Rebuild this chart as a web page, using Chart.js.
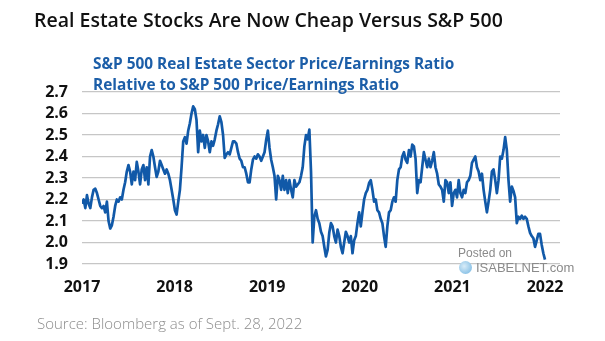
<!DOCTYPE html>
<html><head><meta charset="utf-8">
<script src="https://cdn.jsdelivr.net/npm/chart.js@4/dist/chart.umd.min.js"></script>
<style>
html,body{margin:0;padding:0;background:#fff;}
#wrap{position:relative;width:605px;height:341px;overflow:hidden;background:#fff;}
canvas{position:absolute;left:0;top:0;}
.t{position:absolute;white-space:nowrap;}
#title{left:34px;top:6px;font:600 19.5px 'Open Sans';color:#111;}
#sub{left:93px;top:53px;font:bold 15.4px 'Open Sans';color:#1c5ea8;line-height:21px;}
#src{left:37px;top:313px;font:300 15px 'Open Sans';color:#8c8c8c;}
#wm1{left:458px;top:246px;font:12px 'Liberation Sans';color:#8a8a8a;}
#wm2{left:476px;top:260px;font:13px 'Liberation Sans';color:#8a8a8a;}
#globe{left:459px;top:261px;width:13px;height:13px;border-radius:50%;background:radial-gradient(circle at 40% 40%,#d8ecf8,#6fb3e0);}
</style></head>
<body>
<div id="wrap">
<canvas id="c" width="605" height="341"></canvas>
<div class="t" id="title">Real Estate Stocks Are Now Cheap Versus S&amp;P 500</div>
<div class="t" id="sub">S&amp;P 500 Real Estate Sector Price/Earnings Ratio<br>Relative to S&amp;P 500 Price/Earnings Ratio</div>
<div class="t" id="src">Source: Bloomberg as of Sept. 28, 2022</div>
<div class="t" id="globe"></div>
<div class="t" id="wm1">Posted on</div>
<div class="t" id="wm2">ISABELNET.com</div>
</div>
<script>
const xLabels = ['2017','2018','2019','2020','2021','2022'];
const yTicks = [1.9,2.0,2.1,2.2,2.3,2.4,2.5,2.6,2.7];

const ratio2017 = [2.18,2.20,2.16,2.22,2.18,2.16,2.21,2.245,2.25,2.23,2.20,2.17,2.16,2.17,2.14,2.19,2.10,2.065,2.08,2.12,2.17,2.20,2.19,2.21,2.20,2.245,2.28,2.33,2.36,2.33,2.27,2.33,2.29,2.375,2.33,2.27,2.34,2.36,2.29,2.35,2.27,2.40,2.43,2.40,2.35,2.305,2.33];
const ratio2018 = [2.38,2.36,2.34,2.32,2.34,2.32,2.29,2.245,2.20,2.15,2.13,2.19,2.245,2.35,2.47,2.49,2.46,2.52,2.555,2.60,2.633,2.62,2.57,2.42,2.52,2.47,2.50,2.44,2.50,2.47,2.42,2.47,2.45,2.48,2.52,2.55,2.587,2.56,2.50,2.393,2.41,2.42,2.41,2.44,2.47,2.47,2.46,2.42,2.39,2.38,2.35,2.35,2.32,2.28,2.28,2.34,2.385,2.40,2.39,2.41,2.40,2.38,2.40,2.42,2.478,2.52,2.44,2.385,2.35,2.31,2.20,2.31,2.29,2.245,2.31,2.245,2.29,2.23,2.29,2.245,2.21,2.29,2.26,2.27];
const ratio2019 = [2.28,2.31,2.35,2.447,2.50,2.48,2.525,2.33,2.00,2.12,2.15,2.11,2.09,2.05,2.03,1.98,1.935,1.966,2.045,2.09,2.075,2.03,2.00,2.06,2.03,1.98,1.95,2.00,2.05,2.03,2.00,2.03,1.95,2.01,2.03,2.09,2.14,2.075,2.14,2.20,2.23,2.245,2.277,2.29,2.245,2.19,2.20,2.15,2.14,2.11,2.09,2.03,1.98,2.075,2.14,2.15,2.19,2.21,2.19,2.29,2.34,2.35,2.40,2.42,2.385,2.37,2.43,2.40,2.455,2.447,2.39,2.23,2.29,2.28,2.35,2.42,2.385,2.35,2.39,2.35,2.38,2.42,2.35,2.32];
const ratio2021 = [2.27,2.26,2.245,2.19,2.29,2.28,2.23,2.28,2.17,2.23,2.245,2.21,2.29,2.23,2.21,2.245,2.23,2.28,2.29,2.31,2.37,2.385,2.40,2.35,2.33,2.29,2.32,2.245,2.19,2.14,2.19,2.245,2.33,2.34,2.29,2.23,2.29,2.40,2.39,2.43,2.49,2.43,2.29,2.19,2.26,2.24,2.21,2.09,2.12,2.11,2.125,2.11,2.12,2.11,2.075,2.045,2.03,2.02,1.98,2.01,2.04,2.04,1.99,1.95,1.92];

const values = ratio2017.concat(ratio2018, ratio2019, ratio2021);
const lastIndex = values.length - 1;
const xMax = lastIndex * (560 - 82) / (545 - 82);

const points = values.map((v, i) => ({x: i, y: v}));
const tickFont = {family: "'Open Sans'", size: 16, weight: 'bold'};

new Chart(document.getElementById('c'), {
  type: 'line',
  data: {datasets: [{data: points, borderColor: '#1159a8', borderWidth: 2.7, pointRadius: 0, tension: 0, fill: false, borderJoinStyle: 'round'}]},
  options: {
    responsive: false, animation: false, events: [],
    layout: {padding: {top: 92, right: 45, left: 0, bottom: 0}},
    plugins: {legend: {display: false}, tooltip: {enabled: false}, title: {display: false}},
    scales: {
      x: {
        type: 'linear', min: 0, max: xMax,
        afterFit(s) { s.height = 77; },
        afterBuildTicks(s) { s.ticks = xLabels.map((l, i) => ({value: i * lastIndex / 5})); },
        ticks: {callback: (v, i) => xLabels[i], autoSkip: false, maxRotation: 0, padding: 6, color: '#111', font: tickFont},
        grid: {display: false}, border: {display: false}
      },
      y: {
        min: 1.9, max: 2.7,
        afterFit(s) { s.width = 82; },
        afterBuildTicks(s) { s.ticks = yTicks.map(v => ({value: v})); },
        ticks: {callback: v => v.toFixed(1), autoSkip: false, padding: 14, color: '#111', font: tickFont},
        grid: {color: '#c6c6c6', lineWidth: 1.3, drawTicks: false}, border: {display: false}
      }
    }
  }
});
</script>
</body></html>
